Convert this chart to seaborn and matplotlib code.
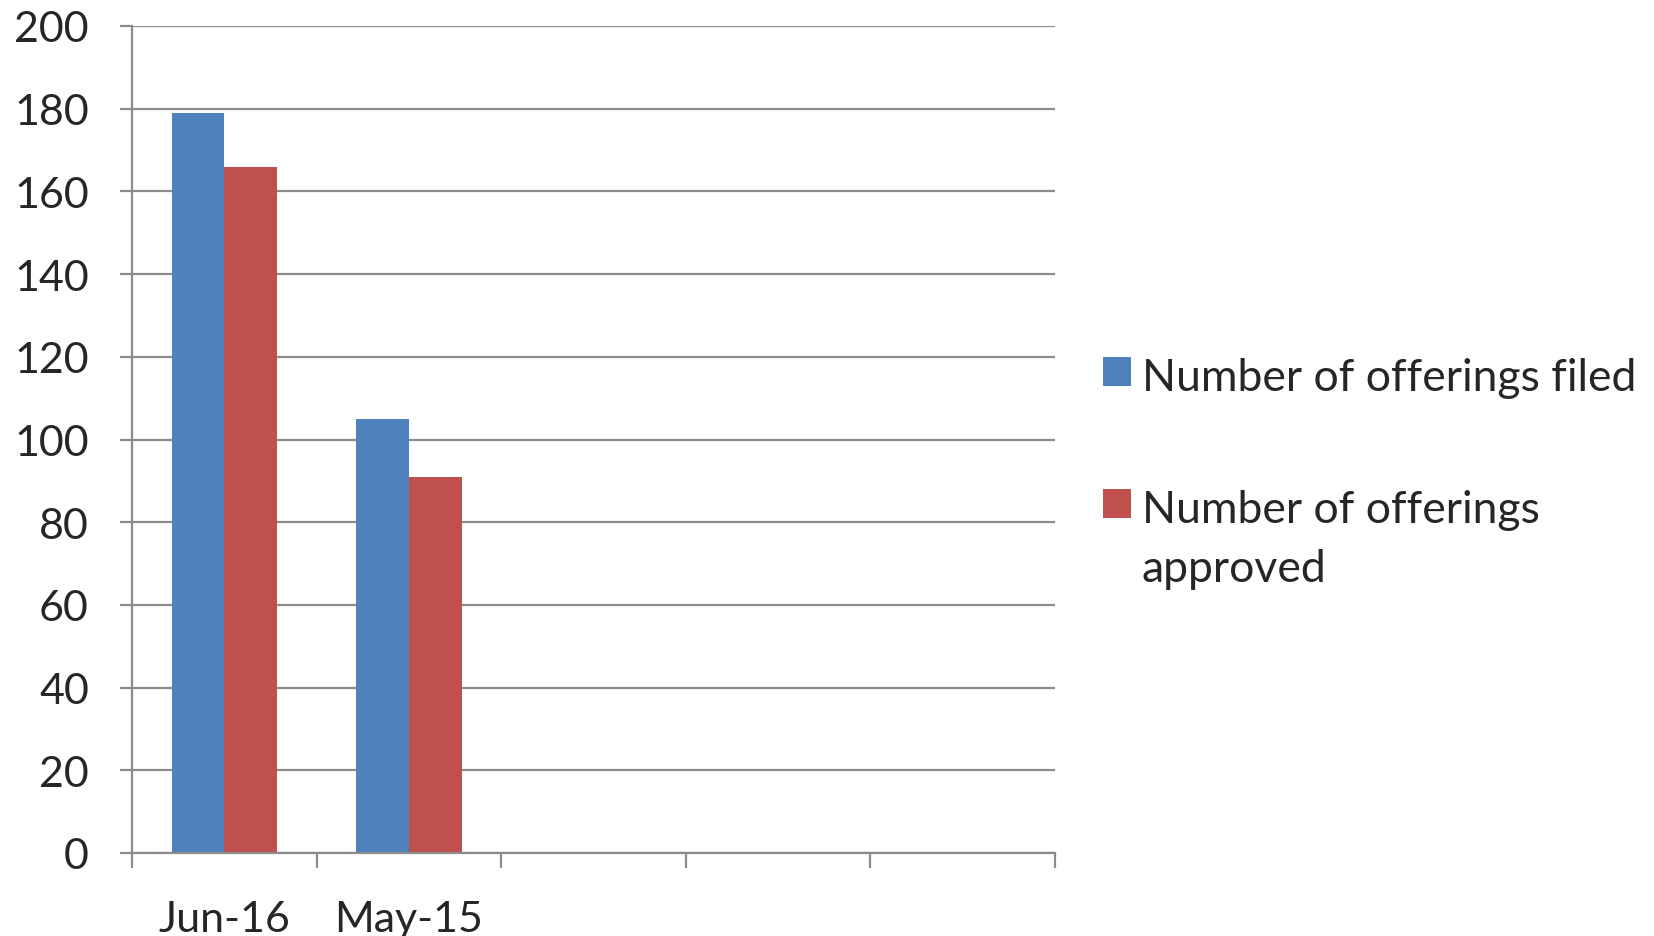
import matplotlib
matplotlib.use("Agg")
import matplotlib.pyplot as plt
import seaborn as sns
import pandas as pd
from matplotlib.ticker import FixedLocator, NullFormatter, FixedFormatter

categories = ["Jun-16", "May-15"]
filed = [179, 105]
approved = [166, 91]
series_names = ["Number of offerings filed", "Number of offerings\napproved"]
y_ticks = [0, 20, 40, 60, 80, 100, 120, 140, 160, 180, 200]
n_slots = 5

df = pd.DataFrame({
    "cat": categories * 2,
    "value": filed + approved,
    "series": [series_names[0]] * len(categories) + [series_names[1]] * len(categories),
})

sns.set_style("white")
plt.rcParams["font.family"] = ["Lato", "DejaVu Sans"]

fig = plt.figure(figsize=(16.54, 9.37), dpi=100)
ax = fig.add_axes([132 / 1654, 1 - 854 / 937, (1055 - 132) / 1654, (854 - 27) / 937])

sns.barplot(data=df, x="cat", y="value", hue="series", order=categories,
            hue_order=series_names, palette=["#4F81BD", "#C0504D"],
            width=0.571, ax=ax, saturation=1, linewidth=0, legend=True)

ax.set_xlim(-0.5, n_slots - 0.5)
ax.set_ylim(0, 200)
ax.set_yticks(y_ticks)
ax.set_xlabel("")
ax.set_ylabel("")

grid_c = "#8C8C8C"
ax.yaxis.grid(True, color=grid_c, linewidth=1.6)
ax.set_axisbelow(True)
for s in ["top", "right"]:
    ax.spines[s].set_visible(False)
for s in ["left", "bottom"]:
    ax.spines[s].set_color(grid_c)
    ax.spines[s].set_linewidth(1.6)

ax.tick_params(axis="y", which="major", length=9, width=1.6, color=grid_c,
               labelsize=31, pad=22, left=True, direction="out")
ax.xaxis.set_major_locator(FixedLocator([i - 0.5 for i in range(n_slots + 1)]))
ax.xaxis.set_major_formatter(NullFormatter())
ax.xaxis.set_minor_locator(FixedLocator(list(range(len(categories)))))
ax.xaxis.set_minor_formatter(FixedFormatter(categories))
ax.tick_params(axis="x", which="major", length=11, width=1.6, color=grid_c,
               bottom=True, direction="out")
ax.tick_params(axis="x", which="minor", length=0, labelsize=31, pad=34)

handles, labels = ax.get_legend_handles_labels()
leg = fig.legend(handles, labels, loc="upper left", bbox_to_anchor=(1103 / 1654, 1 - 358 / 937),
                 frameon=False, fontsize=32, handlelength=0.62, handleheight=0.62,
                 handletextpad=0.25, labelspacing=2.05, borderpad=0, borderaxespad=0)
if ax.get_legend():
    ax.get_legend().remove()
for col in leg._legend_handle_box.get_children():
    for row in col.get_children():
        row.align = "top"
for t in leg.get_texts():
    t.set_linespacing(1.55)

fig.savefig("out.png", dpi=100)
